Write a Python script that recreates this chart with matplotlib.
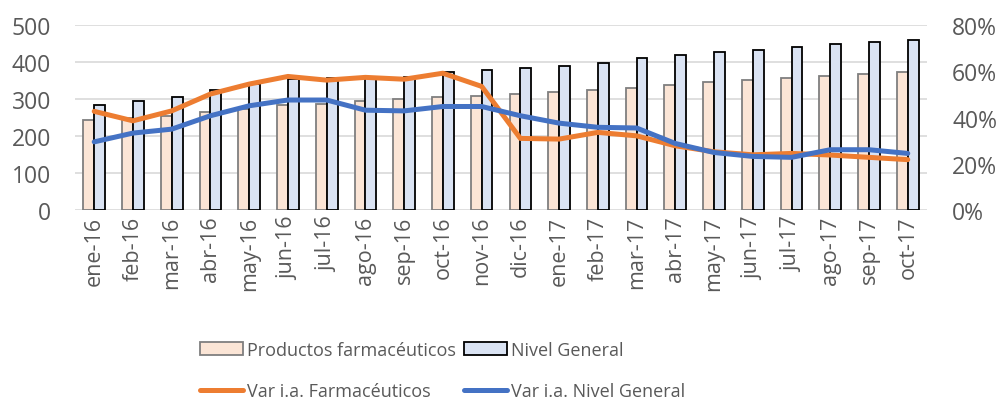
import numpy as np
import matplotlib.pyplot as plt
from matplotlib.ticker import FuncFormatter

months = ['ene-16', 'feb-16', 'mar-16', 'abr-16', 'may-16', 'jun-16', 'jul-16', 'ago-16',
          'sep-16', 'oct-16', 'nov-16', 'dic-16', 'ene-17', 'feb-17', 'mar-17', 'abr-17',
          'may-17', 'jun-17', 'jul-17', 'ago-17', 'sep-17', 'oct-17']

# indices (left axis)
farma = [244, 250, 253, 264, 273, 284, 286, 295, 300, 306, 309, 314,
         319, 325, 331, 338, 347, 352, 358, 363, 368, 372]
nivel = [284, 295, 305, 325, 342, 354, 358, 360, 361, 372, 378, 383,
         390, 398, 410, 419, 426, 432, 441, 448, 455, 461]

# year-on-year variation (right axis, %)
var_farma = [42.7, 38.6, 42.9, 50.2, 54.5, 57.8, 56.2, 57.4, 56.6, 59.2, 53.5, 31.0,
             30.7, 33.6, 32.1, 27.8, 25.2, 23.9, 24.5, 23.8, 22.8, 21.8]
var_nivel = [29.5, 33.3, 35.0, 40.8, 45.1, 47.6, 47.6, 43.2, 42.9, 44.8, 44.8, 40.8,
             37.6, 35.8, 35.5, 28.8, 24.9, 23.2, 22.8, 26.1, 26.1, 24.5]

plt.rcParams['font.family'] = ['Open Sans', 'DejaVu Sans']
gray = '#595959'

fig = plt.figure(figsize=(9.98, 4.02), dpi=100)
ax = fig.add_axes([0.075, 0.475, 0.854, 0.46])
x = np.arange(len(months))
w = 0.28

b1 = ax.bar(x - w / 2, farma, w, color='#FBE5D6', edgecolor='#7F7F7F', linewidth=1.3,
            label='Productos farmacéuticos', zorder=2)
b2 = ax.bar(x + w / 2, nivel, w, color='#DAE3F3', edgecolor='black', linewidth=1.3,
            label='Nivel General', zorder=2)

ax.set_ylim(0, 500)
ax.set_yticks(range(0, 501, 100))
ax.set_xlim(-0.5, len(months) - 0.5)
ax.set_xticks(x)
ax.set_xticklabels(months, rotation=90)
ax.grid(axis='y', color='#D9D9D9', linewidth=1.2, zorder=0)
ax.set_axisbelow(True)
for s in ax.spines.values():
    s.set_visible(False)
ax.tick_params(axis='y', length=0, labelsize=16.5, colors=gray, pad=17)
ax.tick_params(axis='x', length=0, labelsize=15.5, colors=gray, pad=4)

ax2 = ax.twinx()
l1, = ax2.plot(x, var_farma, color='#ED7D31', linewidth=3.6, label='Var i.a. Farmacéuticos',
               solid_capstyle='round', solid_joinstyle='round')
l2, = ax2.plot(x, var_nivel, color='#4472C4', linewidth=3.6, label='Var i.a. Nivel General',
               solid_capstyle='round', solid_joinstyle='round')
ax2.set_ylim(0, 80)
ax2.set_yticks(range(0, 81, 20))
ax2.yaxis.set_major_formatter(FuncFormatter(lambda v, p: f'{v:.0f}%'))
for s in ax2.spines.values():
    s.set_visible(False)
ax2.tick_params(length=0, labelsize=16.5, colors=gray, pad=18)

fig.legend([b1, l1, b2, l2],
           ['Productos farmacéuticos', 'Var i.a. Farmacéuticos', 'Nivel General', 'Var i.a. Nivel General'],
           ncol=2, loc='lower left', bbox_to_anchor=(0.184, -0.038), frameon=False,
           fontsize=13, labelcolor=gray, handlelength=2.4, handletextpad=0.2,
           columnspacing=0.45, labelspacing=1.3)

fig.savefig('out.png', dpi=100)
